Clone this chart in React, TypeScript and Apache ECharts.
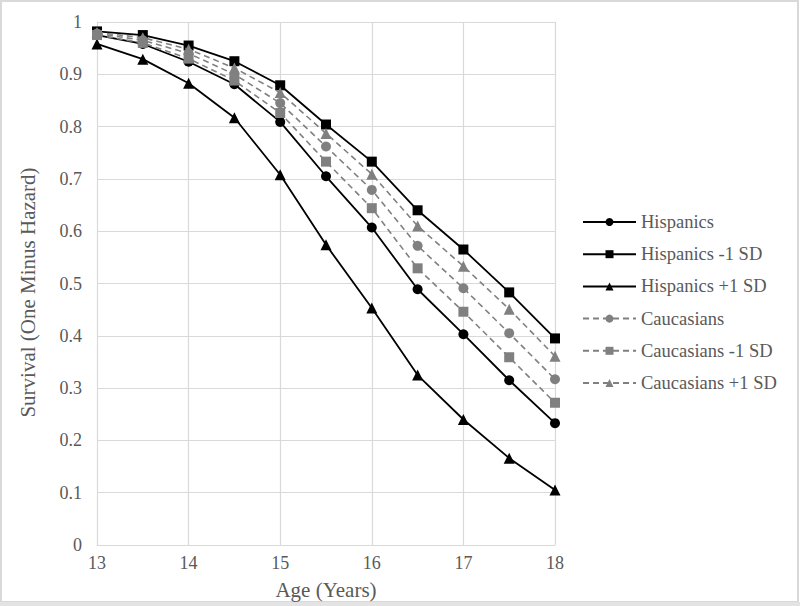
import React, { useEffect, useRef } from "react";
import * as echarts from "echarts";

const ages = [13, 13.5, 14, 14.5, 15, 15.5, 16, 16.5, 17, 17.5, 18];
const hispanics = [0.975, 0.958, 0.924, 0.881, 0.809, 0.705, 0.607, 0.489, 0.403, 0.315, 0.233];
const hispanicsMinus = [0.982, 0.975, 0.955, 0.925, 0.879, 0.804, 0.733, 0.640, 0.565, 0.483, 0.395];
const hispanicsPlus = [0.958, 0.929, 0.883, 0.817, 0.708, 0.574, 0.453, 0.325, 0.240, 0.166, 0.105];
const caucasians = [0.978, 0.965, 0.940, 0.900, 0.845, 0.762, 0.679, 0.572, 0.491, 0.405, 0.317];
const caucasiansMinus = [0.975, 0.960, 0.930, 0.888, 0.826, 0.733, 0.644, 0.529, 0.446, 0.359, 0.272];
const caucasiansPlus = [0.980, 0.970, 0.948, 0.912, 0.865, 0.787, 0.709, 0.610, 0.533, 0.451, 0.361];

const seriesNames = [
  "Hispanics",
  "Hispanics -1 SD",
  "Hispanics +1 SD",
  "Caucasians",
  "Caucasians -1 SD",
  "Caucasians +1 SD",
];

const FONT = "Liberation Serif";
const TEXT = "#595959";

function pair(vals: number[]) {
  return ages.map((a, i) => [a, vals[i]]);
}

export default function App() {
  const ref = useRef<HTMLDivElement>(null);
  useEffect(() => {
    if (!ref.current) return;
    const chart = echarts.init(ref.current, undefined, { renderer: "svg" });
    const mk = (
      name: string,
      vals: number[],
      symbol: string,
      color: string,
      dashed: boolean,
      size: number
    ) => ({
      name,
      type: "line",
      data: pair(vals),
      symbol,
      symbolSize: size,
      showSymbol: true,
      itemStyle: { color },
      lineStyle: dashed
        ? { color, width: 1.6, type: [6, 4] }
        : { color, width: 1.8 },
      z: dashed ? 3 : 2,
    });
    chart.setOption({
      animation: false,
      backgroundColor: "#ffffff",
      textStyle: { fontFamily: FONT },
      grid: { left: 97, right: 245, top: 22, bottom: 61, containLabel: false },
      xAxis: {
        type: "value",
        min: 13,
        max: 18,
        interval: 1,
        name: "Age (Years)",
        nameLocation: "middle",
        nameGap: 34,
        nameTextStyle: { fontFamily: FONT, fontSize: 21, color: TEXT },
        axisLine: { show: true, lineStyle: { color: "#d9d9d9", width: 1 } },
        axisTick: { show: false },
        axisLabel: { fontFamily: FONT, fontSize: 18, color: TEXT, margin: 9 },
        splitLine: { show: true, lineStyle: { color: "#d9d9d9", width: 1.2 } },
      },
      yAxis: {
        type: "value",
        min: 0,
        max: 1,
        interval: 0.1,
        name: "Survival (One Minus Hazard)",
        nameLocation: "middle",
        nameGap: 59,
        nameRotate: 90,
        nameTextStyle: {
          fontFamily: FONT,
          fontSize: 21,
          color: TEXT,
          padding: [0, 18, 0, 0],
        },
        axisLine: { show: true, lineStyle: { color: "#d9d9d9", width: 1 } },
        axisTick: { show: false },
        axisLabel: {
          fontFamily: FONT,
          fontSize: 18,
          color: TEXT,
          margin: 15,
          formatter: (v: number) => String(Math.round(v * 10) / 10),
        },
        splitLine: { show: true, lineStyle: { color: "#d9d9d9", width: 1.2 } },
      },
      legend: {
        orient: "vertical",
        left: 577,
        top: 207,
        itemWidth: 53,
        itemHeight: 10,
        itemGap: 12.2,
        data: seriesNames,
        textStyle: { fontFamily: FONT, fontSize: 18.5, color: TEXT, lineHeight: 20 },
      },
      graphic: [
        {
          type: "rect",
          shape: { x: 1, y: 1, width: 797, height: 601 },
          style: { fill: "none", stroke: "#d9d9d9", lineWidth: 2 },
          silent: true,
        },
        {
          type: "rect",
          shape: { x: 0, y: 602, width: 800, height: 4 },
          style: { fill: "#e3e3e3" },
          silent: true,
        },
      ],
      series: [
        mk(seriesNames[0], hispanics, "circle", "#000000", false, 10),
        mk(seriesNames[1], hispanicsMinus, "rect", "#000000", false, 10),
        mk(seriesNames[2], hispanicsPlus, "triangle", "#000000", false, 11),
        mk(seriesNames[3], caucasians, "circle", "#808080", true, 10),
        mk(seriesNames[4], caucasiansMinus, "rect", "#808080", true, 10),
        mk(seriesNames[5], caucasiansPlus, "triangle", "#808080", true, 11),
      ],
    });
    return () => chart.dispose();
  }, []);
  return (
    <div
      ref={ref}
      style={{ position: "fixed", left: 0, top: 0, width: 800, height: 606 }}
    />
  );
}
